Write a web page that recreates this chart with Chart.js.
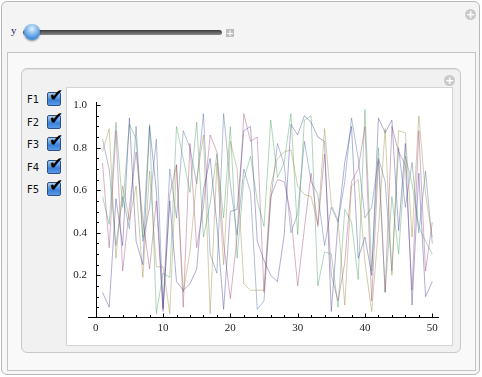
<!DOCTYPE html>
<html>
<head>
<meta charset="utf-8">
<script src="https://cdn.jsdelivr.net/npm/chart.js@4/dist/chart.umd.min.js"></script>
<style>
	html, body { margin: 0; padding: 0; background: #fff; }
	body { width: 482px; height: 377px; position: relative; overflow: hidden; font-family: "DejaVu Sans", sans-serif; }
	.frame { position: absolute; left: 1px; top: 1px; width: 477px; height: 372px; border: 1px solid #b8b8b8; border-radius: 6px; background: linear-gradient(#f4f4f4, #f7f7f7); }
	.pane { position: absolute; left: 7px; top: 52px; width: 467px; height: 317px; border: 1px solid #c4c4c4; background: #f9f9f9; }
	.panel { position: absolute; left: 21px; top: 68px; width: 438px; height: 283px; border: 1px solid #c8c8c8; border-radius: 6px; background: #f1f1f1; box-shadow: inset 0 1px 1px rgba(0,0,0,0.06); }
	.plot { position: absolute; left: 67px; top: 88px; width: 385px; height: 257px; background: #fff; outline: 1px solid #d4d4d4; }
	.icon { position: absolute; width: 11px; height: 11px; border-radius: 50%; background: #c9c9c9; color: #fff; font-size: 11px; line-height: 11px; text-align: center; font-weight: bold; }
	.ylabel { position: absolute; left: 11px; top: 24px; font-size: 11px; color: #23305a; font-family: "Liberation Serif", serif; }
	.track { position: absolute; left: 23px; top: 30px; width: 199px; height: 5px; border-radius: 3px; background: linear-gradient(#3c3c3c, #8a8a8a); }
	.thumb { position: absolute; left: 24px; top: 24px; width: 16px; height: 16px; border-radius: 50%; background: radial-gradient(circle at 50% 30%, #e4f1ff 0, #8ec0f0 35%, #3f88d8 75%, #2c6bb8 100%); box-shadow: 0 1px 2px rgba(0,0,0,0.45); }
	.plus { position: absolute; left: 226px; top: 29px; width: 8px; height: 8px; background: #bdbdbd; color: #fff; font-size: 9px; line-height: 8px; text-align: center; font-weight: bold; }
	.cb-label { position: absolute; left: 27px; font-size: 10px; color: #111; }
	.cb { position: absolute; left: 47px; width: 12px; height: 12px; border: 1px solid #2c4f88; border-radius: 2px; background: linear-gradient(#a8d0f6, #3b7fd6 60%, #5a9be6); }
	.cb span { position: absolute; left: 1px; top: -6px; font-size: 17px; color: #000; line-height: 17px; }
	#chart { position: absolute; left: 67px; top: 88px; }
</style>
</head>
<body>
<div class="frame"></div>
<div class="icon" style="left:465px; top:9px;">+</div>
<div class="ylabel">y</div>
<div class="track"></div>
<div class="thumb"></div>
<div class="plus">+</div>
<div class="pane"></div>
<div class="panel"></div>
<div class="icon" style="left:444px; top:75px;">+</div>
<div class="plot"></div>
<div id="boxes"></div>
<canvas id="chart" width="385" height="257"></canvas>
<script>
// Chart data
const SERIES_NAMES = ["F1", "F2", "F3", "F4", "F5"];
const X_TICKS = [0, 10, 20, 30, 40, 50];
const Y_TICKS = [0.2, 0.4, 0.6, 0.8, 1.0];

const F1 = [0.12, 0.05, 0.56, 0.34, 0.94, 0.36, 0.25, 0.90, 0.60, 0.04, 0.55, 0.17, 0.13, 0.16, 0.23, 0.60, 0.75, 0.44, 0.04, 0.50,
	0.51, 0.88, 0.90, 0.36, 0.27, 0.20, 0.17, 0.39, 0.91, 0.86, 0.95, 0.92, 0.85, 0.83, 0.03, 0.45, 0.73, 0.90, 0.28, 0.38,
	0.20, 0.94, 0.87, 0.93, 0.41, 0.82, 0.06, 0.68, 0.10, 0.17];
const F2 = [0.73, 0.33, 0.88, 0.22, 0.52, 0.78, 0.46, 0.23, 0.55, 0.03, 0.58, 0.72, 0.05, 0.82, 0.33, 0.52, 0.86, 0.78, 0.35, 0.09,
	0.38, 0.96, 0.83, 0.85, 0.12, 0.57, 0.65, 0.64, 0.48, 0.15, 0.42, 0.68, 0.43, 0.77, 0.20, 0.08, 0.26, 0.64, 0.70, 0.90,
	0.08, 0.74, 0.12, 0.90, 0.78, 0.72, 0.13, 0.88, 0.22, 0.45];
const F3 = [0.78, 0.89, 0.28, 0.62, 0.46, 0.62, 0.19, 0.69, 0.24, 0.24, 0.02, 0.72, 0.12, 0.31, 0.65, 0.86, 0.02, 0.73, 0.25, 0.83,
	0.70, 0.16, 0.13, 0.13, 0.13, 0.62, 0.75, 0.78, 0.79, 0.62, 0.58, 0.57, 0.44, 0.89, 0.53, 0.46, 0.06, 0.62, 0.65, 0.26,
	0.03, 0.42, 0.89, 0.20, 0.88, 0.87, 0.38, 0.95, 0.58, 0.38];
const F4 = [0.57, 0.44, 0.92, 0.52, 0.91, 0.84, 0.38, 0.91, 0.02, 0.21, 0.19, 0.90, 0.75, 0.59, 0.92, 0.38, 0.54, 0.77, 0.47, 0.90,
	0.28, 0.65, 0.76, 0.55, 0.43, 0.93, 0.66, 0.73, 0.96, 0.39, 0.93, 0.95, 0.15, 0.31, 0.30, 0.05, 0.51, 0.45, 0.18, 0.98,
	0.22, 0.80, 0.12, 0.57, 0.30, 0.76, 0.63, 0.43, 0.36, 0.30];
const F5 = [0.84, 0.70, 0.34, 0.57, 0.42, 0.90, 0.36, 0.52, 0.84, 0.05, 0.70, 0.47, 0.88, 0.80, 0.63, 0.96, 0.30, 0.21, 0.96, 0.63,
	0.39, 0.70, 0.59, 0.04, 0.08, 0.55, 0.82, 0.72, 0.40, 0.49, 0.83, 0.64, 0.58, 0.34, 0.52, 0.45, 0.64, 0.94, 0.75, 0.47,
	0.52, 0.75, 0.64, 0.22, 0.80, 0.52, 0.73, 0.40, 0.69, 0.35];

const COLORS = [
	"rgba(61, 61, 153, 0.42)",
	"rgba(153, 61, 116, 0.4)",
	"rgba(153, 135, 61, 0.42)",
	"rgba(61, 153, 84, 0.4)",
	"rgba(61, 95, 153, 0.4)",
];

// Checkboxes
const boxes = document.getElementById("boxes");
SERIES_NAMES.forEach((name, i) => {
	const top = 94 + i * 22.6;
	boxes.insertAdjacentHTML("beforeend",
		`<div class="cb-label" style="top:${top}px">${name}</div>` +
		`<div class="cb" style="top:${top - 2}px"><span>✔</span></div>`);
});

const toPoints = (arr) => arr.map((v, i) => ({ x: i + 1, y: v }));

// Axes drawn Mathematica style, ticks pointing inward
const axesPlugin = {
	id: "mmaAxes",
	afterDatasetsDraw(chart) {
		const { ctx, chartArea, scales } = chart;
		const xs = scales.x, ys = scales.y;
		const x0 = Math.round(xs.getPixelForValue(0)) + 0.5;
		const yb = Math.round(chartArea.bottom) + 0.5;
		ctx.save();
		ctx.strokeStyle = "#000";
		ctx.lineWidth = 1;
		ctx.beginPath();
		ctx.moveTo(chartArea.left, yb);
		ctx.lineTo(chartArea.right, yb);
		ctx.moveTo(x0, yb);
		ctx.lineTo(x0, chartArea.top);
		for (let v = 0; v <= 51; v += 2) {
			const px = Math.round(xs.getPixelForValue(v)) + 0.5;
			const len = v % 10 === 0 ? 4 : 2.5;
			ctx.moveTo(px, yb);
			ctx.lineTo(px, yb - len);
		}
		for (let k = 1; k <= 20; k++) {
			const v = k * 0.05;
			const py = Math.round(ys.getPixelForValue(v)) + 0.5;
			const len = k % 4 === 0 ? 4 : 2.5;
			ctx.moveTo(x0, py);
			ctx.lineTo(x0 + len, py);
		}
		ctx.stroke();
		ctx.restore();
	},
};

const TICK_FONT = { family: "'Liberation Serif', serif", size: 11 };

const CONFIG = {
	type: "line",
	data: {
		datasets: [F1, F2, F3, F4, F5].map((arr, i) => ({
			label: SERIES_NAMES[i],
			data: toPoints(arr),
			borderColor: COLORS[i],
			borderWidth: 1,
			pointRadius: 0,
			tension: 0,
			fill: false,
		})),
	},
	options: {
		responsive: false,
		animation: false,
		layout: { padding: { left: 0, right: 13, top: 14, bottom: 0 } },
		plugins: { legend: { display: false }, tooltip: { enabled: false } },
		scales: {
			x: {
				type: "linear",
				min: -1.15,
				max: 51,
				border: { display: false },
				grid: { display: false, drawTicks: false },
				afterBuildTicks: (s) => { s.ticks = X_TICKS.map((v) => ({ value: v })); },
				afterFit: (s) => { s.height = 28; },
				ticks: { color: "#222", font: TICK_FONT, padding: 5, maxRotation: 0, autoSkip: false, callback: (v) => v },
			},
			y: {
				min: 0.004,
				max: 1.015,
				border: { display: false },
				grid: { display: false, drawTicks: false },
				afterBuildTicks: (s) => { s.ticks = Y_TICKS.map((v) => ({ value: v })); },
				afterFit: (s) => { s.width = 21; },
				ticks: { color: "#222", font: TICK_FONT, padding: 1, callback: (v) => v.toFixed(1) },
			},
		},
	},
	plugins: [axesPlugin],
};

new Chart(document.getElementById("chart"), CONFIG);
</script>
</body>
</html>
